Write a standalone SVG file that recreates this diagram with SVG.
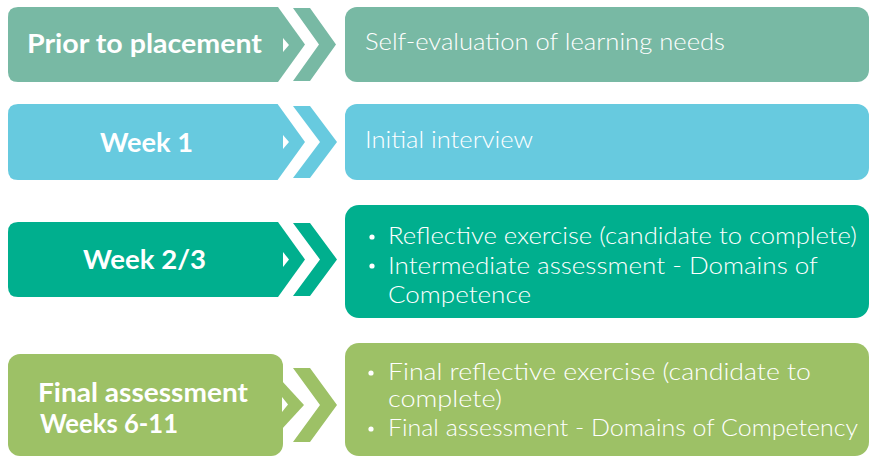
<svg xmlns="http://www.w3.org/2000/svg" width="870" height="457" viewBox="0 0 870 457">
<style>
.c1{fill:#78B9A4}.c2{fill:#67CADF}.c3{fill:#00AF8E}.c4{fill:#9DC166}
.lbl{font-family:Lato,"Open Sans","Liberation Sans",sans-serif;font-weight:700;font-size:26px;fill:#FFFFFF}
.txt{font-family:Lato,"Open Sans","Liberation Sans",sans-serif;font-weight:300;font-size:23px;fill:#FFFFFF}
.tri{fill:#FFFFFF}
.dot{fill:#FFFFFF}
</style>
<rect width="870" height="457" fill="#FFFFFF"/>

<g id="left-prior">
<path class="c1" d="M18,7 H278 L305,44.5 L278,82 H18 Q8,82 8,72 V17 Q8,7 18,7 Z"/>
<polygon class="tri" points="283,38 289,45 283,52"/>
<text class="lbl" x="27" y="53" textLength="235" lengthAdjust="spacingAndGlyphs">Prior to placement</text>
</g>
<g id="right-prior">
<rect class="c1" x="345" y="7" width="524" height="75" rx="12"/>
<text class="txt" x="365" y="50" textLength="360" lengthAdjust="spacingAndGlyphs">Self-evaluation of learning needs</text>
</g>

<g id="left-week1">
<path class="c2" d="M18,104 H277.6 L305,142 L277.6,180 H18 Q8,180 8,170 V114 Q8,104 18,104 Z"/>
<polygon class="tri" points="283,135 289,142 283,149"/>
<text class="lbl" x="100" y="151.5" textLength="93" lengthAdjust="spacingAndGlyphs">Week 1</text>
</g>
<g id="right-week1">
<rect class="c2" x="345" y="104" width="524" height="76" rx="12"/>
<text class="txt" x="365" y="148" textLength="168" lengthAdjust="spacingAndGlyphs">Initial interview</text>
</g>

<g id="left-week23">
<path class="c3" d="M18,222 H278 L305,259.5 L278,297 H18 Q8,297 8,287 V232 Q8,222 18,222 Z"/>
<polygon class="tri" points="283,252 289,259.5 283,267"/>
<text class="lbl" x="83" y="269" textLength="123" lengthAdjust="spacingAndGlyphs">Week 2/3</text>
</g>
<g id="right-week23">
<rect class="c3" x="345" y="205" width="524" height="113" rx="14"/>
<circle class="dot" cx="372" cy="237" r="2.6"/>
<text class="txt" x="388" y="244" textLength="469" lengthAdjust="spacingAndGlyphs">Reflective exercise (candidate to complete)</text>
<circle class="dot" cx="372" cy="266" r="2.6"/>
<text class="txt" x="388" y="274" textLength="430" lengthAdjust="spacingAndGlyphs">Intermediate assessment - Domains of</text>
<text class="txt" x="388" y="303" textLength="143" lengthAdjust="spacingAndGlyphs">Competence</text>
</g>

<g id="left-final">
<rect class="c4" x="8" y="354" width="275" height="102" rx="12"/>
<polygon class="c4" points="270,368 304,405 270,442"/>
<polygon class="tri" points="282,397 288,404.5 282,412"/>
<text class="lbl" x="38" y="402" textLength="210" lengthAdjust="spacingAndGlyphs">Final assessment</text>
<text class="lbl" x="40" y="433" textLength="138" lengthAdjust="spacingAndGlyphs">Weeks 6-11</text>
</g>
<g id="right-final">
<rect class="c4" x="345" y="343" width="524" height="113" rx="14"/>
<circle class="dot" cx="371" cy="373" r="2.6"/>
<text class="txt" x="388" y="380" textLength="423" lengthAdjust="spacingAndGlyphs">Final reflective exercise (candidate to</text>
<text class="txt" x="388" y="407" textLength="114" lengthAdjust="spacingAndGlyphs">complete)</text>
<circle class="dot" cx="371" cy="429" r="2.6"/>
<text class="txt" x="388" y="436" textLength="470" lengthAdjust="spacingAndGlyphs">Final assessment - Domains of Competency</text>
</g>

<g id="connectors">
<polygon class="c1" points="293,8 310,8 336,44.5 310,81 293,81 319,44.5"/>
<polygon class="c2" points="293,106 310,106 337,142 310,178 293,178 320,142"/>
<polygon class="c3" points="293,223 310,223 337,259.5 310,296 293,296 320,259.5"/>
<polygon class="c4" points="293,368 310,368 337,405 310,442 293,442 320,405"/>
</g>
</svg>
